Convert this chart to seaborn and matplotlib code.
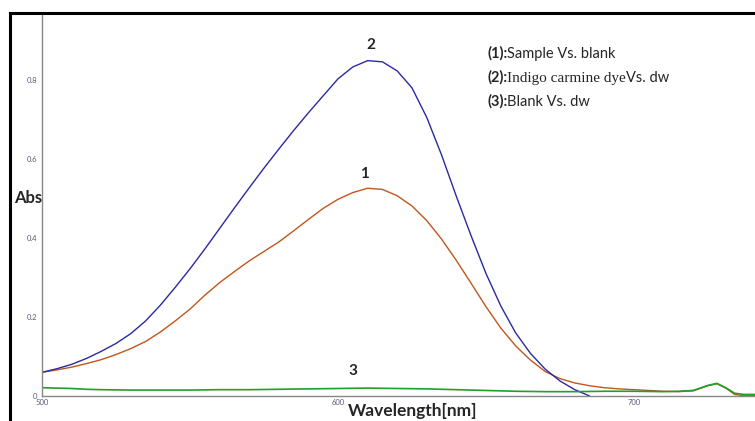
import numpy as np
import pandas as pd
import seaborn as sns
import matplotlib.pyplot as plt
from matplotlib.lines import Line2D

# values (wavelength in nm, absorbance)
wl_dye = [500, 505, 510, 515, 520, 525, 530, 535, 540, 545, 550, 555, 560, 565, 570, 575,
          580, 585, 590, 595, 600, 605, 610, 615, 620, 625, 630, 635, 640, 645, 650, 655,
          660, 665, 670, 675, 680, 685]
abs_dye = [0.060, 0.069, 0.080, 0.095, 0.113, 0.133, 0.158, 0.190, 0.230, 0.275, 0.322, 0.372,
           0.424, 0.476, 0.527, 0.577, 0.625, 0.672, 0.717, 0.760, 0.803, 0.833, 0.849, 0.846,
           0.823, 0.780, 0.705, 0.610, 0.505, 0.405, 0.310, 0.228, 0.160, 0.108, 0.068, 0.038,
           0.016, 0.000]

wl_sample = [500, 505, 510, 515, 520, 525, 530, 535, 540, 545, 550, 555, 560, 565, 570, 575,
             580, 585, 590, 595, 600, 605, 610, 615, 620, 625, 630, 635, 640, 645, 650, 655,
             660, 665, 670, 675, 680, 685, 690, 695, 700, 705, 710, 715, 720, 725, 728, 731,
             734, 737, 741]
abs_sample = [0.060, 0.066, 0.073, 0.082, 0.092, 0.105, 0.120, 0.138, 0.162, 0.190, 0.220, 0.255,
              0.287, 0.315, 0.342, 0.366, 0.390, 0.418, 0.447, 0.475, 0.498, 0.515, 0.526, 0.523,
              0.507, 0.481, 0.444, 0.397, 0.343, 0.285, 0.226, 0.172, 0.127, 0.091, 0.062, 0.044,
              0.033, 0.026, 0.021, 0.018, 0.016, 0.014, 0.012, 0.011, 0.013, 0.026, 0.031, 0.020,
              0.004, 0.001, 0.001]

wl_blank = [500, 505, 510, 515, 520, 530, 540, 550, 560, 570, 580, 590, 600, 610, 620, 630,
            640, 650, 660, 670, 680, 690, 700, 710, 715, 720, 725, 728, 731, 734, 737, 741]
abs_blank = [0.021, 0.020, 0.019, 0.017, 0.016, 0.015, 0.015, 0.015, 0.016, 0.016, 0.017, 0.018,
             0.019, 0.020, 0.019, 0.018, 0.016, 0.014, 0.012, 0.011, 0.011, 0.012, 0.012, 0.011,
             0.012, 0.014, 0.027, 0.032, 0.021, 0.007, 0.004, 0.004]

legend_lines = [("(1):", "Sample Vs. blank", None),
                ("(2):", "Indigo carmine dye", "Vs. dw"),
                ("(3):", "Blank Vs. dw", None)]

sns.set_style("white")
plt.rcParams['font.family'] = ['Lato', 'DejaVu Sans']

fig = plt.figure(figsize=(7.55, 4.21), dpi=100)
ax = fig.add_axes([42/755, 25/421, 713/755, 383/421])

sns.lineplot(x=wl_sample, y=abs_sample, ax=ax, color="#c0561e", lw=1.0, sort=False)
sns.lineplot(x=wl_dye, y=abs_dye, ax=ax, color="#2a2aa0", lw=1.0, sort=False)
sns.lineplot(x=wl_blank, y=abs_blank, ax=ax, color="#22a02a", lw=1.2, sort=False)

ax.set_xlim(500, 500 + 713/2.96)
ax.set_ylim(0, 383/395)
ax.set_xticks([500, 600, 700])
ax.set_xticks([550, 650], minor=True)
ax.set_yticks([0, 0.2, 0.4, 0.6, 0.8])
ax.set_yticks([0.1, 0.3, 0.5, 0.7, 0.9], minor=True)
ax.set_yticklabels(["0", "0.2", "0.4", "0.6", "0.8"])
ax.tick_params(axis='both', which='both', labelsize=5.5, labelcolor="#5a5a78",
               color="#888888", width=0.8)
ax.tick_params(axis='y', which='major', direction='inout', length=5, pad=1)
ax.tick_params(axis='y', which='minor', direction='in', length=3)
ax.tick_params(axis='x', which='major', direction='in', length=4, pad=2)
ax.tick_params(axis='x', which='minor', direction='in', length=3)
ax.set_xlabel("")
ax.set_ylabel("")
for s in ['top', 'right']:
    ax.spines[s].set_visible(False)
for s in ['left', 'bottom']:
    ax.spines[s].set_color("#888888")
    ax.spines[s].set_linewidth(1.0)

# curve numbers
ax.text(611, 0.87, "2", ha='center', va='bottom', fontsize=11, fontweight='bold')
ax.text(609, 0.545, "1", ha='center', va='bottom', fontsize=11, fontweight='bold')
ax.text(605, 0.045, "3", ha='center', va='bottom', fontsize=11, fontweight='bold')

# axis titles
fig.text(28/755, 1 - 198/421, "Abs", ha='center', va='center', fontsize=12, fontweight='bold')
fig.text(413/755, 1 - 411/421, "Wavelength[nm]", ha='center', va='center', fontsize=12.5,
         fontweight='bold')

# legend text block
y0 = 1 - 58/421
for i, (tag, part1, part2) in enumerate(legend_lines):
    y = y0 - i * 24/421
    t = fig.text(487/755, y, tag, fontsize=10.5, fontweight='bold', va='baseline')
    if part2 is None:
        ax.annotate(part1, xy=(1, 0), xycoords=t, fontsize=10.5, va='bottom', ha='left',
                    annotation_clip=False)
    else:
        t2 = ax.annotate(part1, xy=(1, 0), xycoords=t, fontsize=11, va='bottom', ha='left',
                         family='Liberation Serif', annotation_clip=False)
        ax.annotate(part2, xy=(1, 0), xycoords=t2, fontsize=10.5, va='bottom', ha='left',
                    annotation_clip=False)

# outer black frame (cropped at right and bottom)
fig.add_artist(Line2D([10/755, 10/755], [0, 1 - 13/421], transform=fig.transFigure,
                      color='black', lw=2.2, solid_capstyle='projecting'))
fig.add_artist(Line2D([10/755, 1], [1 - 13/421, 1 - 13/421], transform=fig.transFigure,
                      color='black', lw=2.2, solid_capstyle='projecting'))

fig.savefig("out.png", dpi=100)
